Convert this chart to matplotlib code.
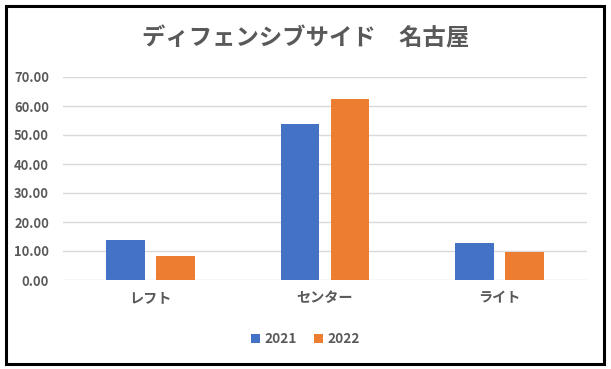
import matplotlib
matplotlib.use("Agg")
import matplotlib.pyplot as plt
import numpy as np
from matplotlib.patches import Rectangle

plt.rcParams['font.family'] = ['Noto Sans CJK JP', 'DejaVu Sans']

categories = ["レフト", "センター", "ライト"]
years = ["2021", "2022"]
values_2021 = [13.8, 53.9, 12.8]
values_2022 = [8.3, 62.4, 9.7]
colors = ["#4472C4", "#ED7D31"]
text_gray = "#595959"

fig = plt.figure(figsize=(6.11, 3.69), dpi=100)
W, H = 611, 369
ax = fig.add_axes([63 / W, 1 - 280 / H, 524 / W, 203 / H])

x = np.arange(len(categories))
width = 0.223
offset = 0.143
ax.bar(x - offset, values_2021, width, color=colors[0], label=years[0], zorder=3)
ax.bar(x + offset, values_2022, width, color=colors[1], label=years[1], zorder=3)

ax.set_xlim(-0.5, 2.5)
ax.set_ylim(0, 70)
ax.set_yticks(np.arange(0, 71, 10))
ax.set_yticklabels([f"{v:.2f}" for v in np.arange(0, 71, 10)])
ax.set_xticks(x)
ax.set_xticklabels(categories)
ax.grid(axis='y', color="#D9D9D9", linewidth=1, zorder=0)
for s in ax.spines.values():
    s.set_visible(False)
ax.tick_params(axis='both', length=0, colors=text_gray)
ax.tick_params(axis='y', pad=10, labelsize=9.3)
ax.tick_params(axis='x', pad=8, labelsize=10.2)
for lab in ax.get_xticklabels() + ax.get_yticklabels():
    lab.set_fontweight('bold')

fig.text(0.5, 1 - 38 / H, "ディフェンシブサイド　名古屋", ha='center', va='center',
         fontsize=16.8, fontweight='bold', color=text_gray)

leg = fig.legend(loc='center', bbox_to_anchor=(0.5, 1 - 339 / H), ncol=2, frameon=False,
                 handlelength=0.65, handleheight=0.65, handletextpad=0.3, columnspacing=1.3,
                 prop={'size': 9.8, 'weight': 'bold'})
for t in leg.get_texts():
    t.set_color(text_gray)

fig.patches.append(Rectangle((5.5 / W, 5.2 / H), 598.7 / W, 358.3 / H, transform=fig.transFigure,
                             fill=False, edgecolor='black', linewidth=2.2))

fig.savefig("out.png", dpi=100)
